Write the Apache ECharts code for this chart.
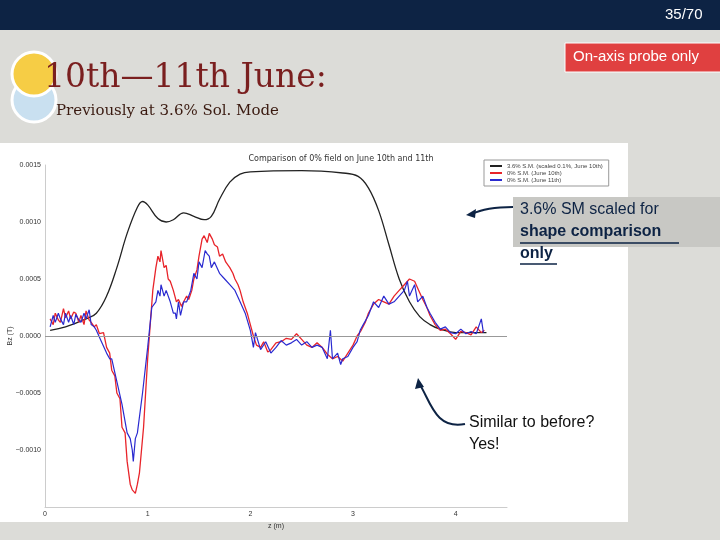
<!DOCTYPE html>
<html>
<head>
<meta charset="utf-8">
<script src="https://cdn.jsdelivr.net/npm/echarts@6/dist/echarts.min.js"></script>
<style>html,body{margin:0;padding:0;background:#dcdcd8;}#main{width:720px;height:540px;}</style>
</head>
<body>
<div id="main"></div>
<script>
// 3.6% S.M. scaled 0.1%, June 10th
var scaledSM = [[0.05,0.00005],[0.2,0.00008],[0.4,0.00015],[0.5,0.0002],[0.6,0.00035],[0.7,0.0006],[0.8,0.0009],[0.9,0.00113],[0.95,0.00118],[1.0,0.00115],[1.1,0.00103],[1.18,0.001],[1.25,0.00102],[1.35,0.00108],[1.45,0.00105],[1.55,0.00102],[1.62,0.00105],[1.7,0.0012],[1.8,0.00135],[1.9,0.00142],[2.0,0.00144],[2.5,0.00145],[2.9,0.00143],[3.05,0.0014],[3.15,0.0013],[3.25,0.0011],[3.35,0.0008],[3.45,0.0005],[3.55,0.0003],[3.65,0.00017],[3.75,0.0001],[3.85,0.00006],[4.0,0.00003],[4.3,0.00003]];
// 0% S.M. June 10th
var june10 = [[0.05,0.00015],[0.08,0.0001],[0.1,0.0002],[0.13,0.00014],[0.15,0.00012],[0.18,0.00024],[0.2,0.00016],[0.23,0.00022],[0.25,0.00015],[0.28,0.00021],[0.3,0.0002],[0.33,0.00012],[0.35,0.00018],[0.38,0.0001],[0.4,0.00022],[0.43,0.00014],[0.45,0.00012],[0.48,0.00008],[0.5,0.0001],[0.53,0.00002],[0.57,0.00003],[0.6,-0.0001],[0.63,-0.00015],[0.65,-0.0003],[0.68,-0.00035],[0.7,-0.0005],[0.73,-0.00055],[0.75,-0.0008],[0.78,-0.00085],[0.8,-0.0011],[0.83,-0.0013],[0.85,-0.00135],[0.88,-0.00138],[0.9,-0.0013],[0.92,-0.0012],[0.96,-0.0008],[1.0,-0.0002],[1.05,0.0004],[1.08,0.0006],[1.1,0.0007],[1.12,0.00065],[1.13,0.00075],[1.16,0.0006],[1.18,0.00062],[1.2,0.0005],[1.22,0.00048],[1.25,0.0004],[1.28,0.0003],[1.3,0.00032],[1.33,0.00026],[1.35,0.0003],[1.38,0.00035],[1.4,0.00032],[1.43,0.0004],[1.45,0.0005],[1.48,0.00058],[1.5,0.0007],[1.53,0.00085],[1.55,0.00088],[1.58,0.00082],[1.6,0.0009],[1.63,0.00085],[1.65,0.0008],[1.68,0.00078],[1.7,0.0007],[1.73,0.00072],[1.76,0.00065],[1.8,0.0006],[1.83,0.00055],[1.85,0.0005],[1.88,0.00045],[1.9,0.0004],[1.93,0.0003],[1.97,0.0002],[2.0,0.0001],[2.03,0],[2.06,-0.00008],[2.1,-0.0001],[2.13,-0.00005],[2.17,-0.00014],[2.2,-0.00012],[2.25,-0.00006],[2.3,-0.00005],[2.35,-0.00002],[2.4,-0.00003],[2.45,0.00002],[2.5,-0.00003],[2.55,-0.00008],[2.6,-0.0001],[2.65,-0.00006],[2.7,-0.0001],[2.75,-0.00016],[2.8,-0.0002],[2.85,-0.00018],[2.9,-0.00022],[2.95,-0.00015],[3.0,-0.00008],[3.04,0.0],[3.08,0.00005],[3.12,0.00012],[3.15,0.0002],[3.2,0.00028],[3.25,0.00032],[3.3,0.0003],[3.35,0.00028],[3.4,0.00035],[3.45,0.0004],[3.5,0.00045],[3.55,0.0005],[3.6,0.00048],[3.64,0.0004],[3.68,0.00032],[3.72,0.00025],[3.75,0.00018],[3.8,0.0001],[3.85,0.00005],[3.9,0.00006],[3.95,0.00002],[4.0,-0.00003],[4.05,0.00004],[4.1,0.00003],[4.15,0.00001],[4.2,0.00008],[4.25,0.00003],[4.28,0.00005]];
// 0% S.M. June 11th
var june11 = [[0.05,0.00008],[0.08,0.00018],[0.1,0.00012],[0.13,0.0002],[0.15,0.00015],[0.18,0.0001],[0.2,0.0002],[0.23,0.00012],[0.25,0.00018],[0.28,0.0001],[0.3,0.00019],[0.33,0.00014],[0.35,0.00012],[0.38,0.0002],[0.4,0.00015],[0.43,0.00023],[0.45,0.0001],[0.48,0.00008],[0.5,0.00005],[0.55,-0.00005],[0.6,-0.00015],[0.63,-0.0002],[0.65,-0.0002],[0.7,-0.0004],[0.75,-0.0006],[0.8,-0.00085],[0.83,-0.0009],[0.85,-0.001],[0.86,-0.0011],[0.88,-0.0009],[0.9,-0.00085],[0.95,-0.0005],[1.0,-0.0001],[1.04,0.00025],[1.08,0.0003],[1.1,0.0004],[1.12,0.00035],[1.13,0.00045],[1.16,0.00035],[1.18,0.0004],[1.22,0.0003],[1.25,0.0002],[1.27,0.0002],[1.28,0.00015],[1.3,0.0003],[1.32,0.00018],[1.35,0.0003],[1.38,0.0003],[1.42,0.0004],[1.45,0.00055],[1.48,0.0005],[1.5,0.00065],[1.53,0.0006],[1.56,0.00075],[1.58,0.00072],[1.6,0.0007],[1.62,0.0006],[1.65,0.00065],[1.7,0.00055],[1.75,0.0005],[1.8,0.00045],[1.85,0.0004],[1.9,0.0003],[1.95,0.0002],[2.0,0.00005],[2.03,-0.0001],[2.05,0.00003],[2.1,-0.00012],[2.15,-0.00005],[2.2,-0.00015],[2.25,-0.0001],[2.3,-0.00004],[2.35,-0.00008],[2.4,-0.00006],[2.45,-0.00003],[2.5,-0.00008],[2.55,-0.00005],[2.6,-0.0001],[2.65,-0.00008],[2.7,-0.0001],[2.75,-0.0002],[2.78,0.00005],[2.8,-0.0002],[2.85,-0.00015],[2.88,-0.00025],[2.9,-0.0002],[2.95,-0.00018],[3.0,-0.0001],[3.04,-0.00005],[3.07,0.00005],[3.1,0.0001],[3.15,0.00018],[3.2,0.0003],[3.25,0.00025],[3.3,0.00035],[3.35,0.00028],[3.4,0.0003],[3.45,0.00035],[3.5,0.0004],[3.53,0.00048],[3.55,0.00035],[3.6,0.00045],[3.63,0.0003],[3.68,0.00035],[3.72,0.00025],[3.75,0.0002],[3.8,0.00012],[3.85,0.00006],[3.9,0.00008],[3.95,0.00003],[4.0,0.00002],[4.05,0.00006],[4.1,0.00002],[4.15,0.00004],[4.2,0.00002],[4.25,0.00015],[4.27,0.00003]];
var seriesNames = ['3.6% S.M. (scaled 0.1%, June 10th)', '0% S.M. (June 10th)', '0% S.M. (June 11th)'];

var chart = echarts.init(document.getElementById('main'));
var option = {
    backgroundColor: '#dcdcd8',
    animation: false,
    title: {
        text: 'Comparison of 0% field on June 10th and 11th',
        left: 336, top: 150, textAlign: 'center',
        textStyle: { fontSize: 8, fontWeight: 'normal', color: '#333', fontFamily: 'DejaVu Sans' }
    },
    legend: {
        orient: 'vertical', left: 484, top: 160, itemGap: 1, itemWidth: 12, itemHeight: 2,
        icon: 'rect', backgroundColor: '#fff', borderColor: '#999', borderWidth: 1, padding: [3, 6],
        textStyle: { fontSize: 6, color: '#444' },
        data: seriesNames
    },
    grid: { left: 45, right: 213, top: 165, bottom: 33, containLabel: false, outerBoundsMode: 'none' },
    xAxis: {
        type: 'value', min: 0, max: 4.5, interval: 1, name: 'z (m)', nameLocation: 'middle', nameGap: 11,
        nameTextStyle: { fontSize: 7, color: '#333' },
        axisLine: { onZero: false, lineStyle: { color: '#ccc' } }, axisTick: { show: false },
        axisLabel: { fontSize: 7, color: '#333', margin: 4, formatter: function (v) { return v % 1 === 0 ? v : ''; } },
        splitLine: { show: false }
    },
    yAxis: {
        type: 'value', min: -0.0015, max: 0.0015, interval: 0.0005,
        axisLine: { show: true, lineStyle: { color: '#ccc' } }, axisTick: { show: false },
        axisLabel: { fontSize: 7, color: '#333', margin: 4, formatter: function (v) { return v <= -0.0015 ? '' : v.toFixed(4).replace('-', '\u2212'); } },
        splitLine: { show: false }
    },
    series: [{
        name: seriesNames[0], type: 'line', data: scaledSM, smooth: 0.4, symbol: 'none',
        lineStyle: { color: '#222', width: 1.3 }, itemStyle: { color: '#222' },
        markLine: { silent: true, symbol: 'none', label: { show: false }, lineStyle: { color: '#999', type: 'solid', width: 1 }, data: [{ yAxis: 0 }] }
    }, {
        name: seriesNames[1], type: 'line', data: june10, symbol: 'none',
        lineStyle: { color: '#e8242a', width: 1.3 }, itemStyle: { color: '#e8242a' }
    }, {
        name: seriesNames[2], type: 'line', data: june11, symbol: 'none',
        lineStyle: { color: '#2a2ad0', width: 1.2 }, itemStyle: { color: '#2a2ad0' }
    }],
    graphic: [
        { type: 'rect', z: -10, shape: { x: 0, y: 143, width: 628, height: 379 }, style: { fill: '#fff' } },
        { type: 'text', x: 10, y: 336, rotation: Math.PI / 2, style: { text: 'Bz (T)', fill: '#333', fontSize: 7, align: 'center', verticalAlign: 'middle' } },
        { type: 'rect', shape: { x: 0, y: 0, width: 720, height: 30 }, style: { fill: '#0d2344' } },
        { type: 'text', left: 665, top: 7, style: { text: '35/70', fill: '#fff', fontSize: 15, fontFamily: 'Arial' } },
        { type: 'circle', shape: { cx: 34, cy: 100, r: 22 }, style: { fill: '#c9e0f0', stroke: '#fff', lineWidth: 3 } },
        { type: 'circle', shape: { cx: 34, cy: 74, r: 22 }, style: { fill: '#f6cd45', stroke: '#fff', lineWidth: 3 } },
        { type: 'text', left: 44, top: 62, style: { text: '10th\u201411th June:', fill: '#7a1f1f', fontSize: 33, fontFamily: 'DejaVu Serif' } },
        { type: 'text', left: 56, top: 104, style: { text: 'Previously at 3.6% Sol. Mode', fill: '#3a1a10', fontSize: 15, fontFamily: 'DejaVu Serif' } },
        { type: 'rect', shape: { x: 565, y: 43, width: 160, height: 29 }, style: { fill: '#e04040', stroke: '#fff', lineWidth: 1 } },
        { type: 'text', left: 573, top: 49, style: { text: 'On-axis probe only', fill: '#fff', fontSize: 15, fontFamily: 'Arial' } },
        { type: 'rect', shape: { x: 513, y: 197, width: 210, height: 50 }, style: { fill: '#c8c8c4' } },
        { type: 'text', left: 520, top: 202, style: { text: '3.6% SM scaled for', fill: '#0d2344', fontSize: 16, fontFamily: 'Arial' } },
        { type: 'text', left: 520, top: 224, style: { text: 'shape comparison', fill: '#0d2344', fontSize: 16, fontWeight: 'bold', fontFamily: 'Arial' } },
        { type: 'text', left: 520, top: 246, style: { text: 'only', fill: '#0d2344', fontSize: 16, fontWeight: 'bold', fontFamily: 'Arial' } },
        { type: 'line', shape: { x1: 520, y1: 243, x2: 679, y2: 243 }, style: { stroke: '#0d2344', lineWidth: 1.5 } },
        { type: 'line', shape: { x1: 520, y1: 264, x2: 557, y2: 264 }, style: { stroke: '#0d2344', lineWidth: 1.5 } },
        { type: 'bezierCurve', shape: { x1: 513, y1: 207, x2: 472, y2: 214, cpx1: 495, cpy1: 207, cpx2: 480, cpy2: 210 }, style: { stroke: '#0d2344', lineWidth: 2, fill: 'none' } },
        { type: 'polygon', shape: { points: [[466, 215], [476, 209], [475, 218]] }, style: { fill: '#0d2344' } },
        { type: 'bezierCurve', shape: { x1: 465, y1: 424, x2: 420, y2: 385, cpx1: 435, cpy1: 430, cpx2: 430, cpy2: 400 }, style: { stroke: '#0d2344', lineWidth: 2, fill: 'none' } },
        { type: 'polygon', shape: { points: [[418, 378], [415, 389], [424, 387]] }, style: { fill: '#0d2344' } },
        { type: 'text', left: 469, top: 412, style: { text: 'Similar to before?\nYes!', fill: '#111', fontSize: 16, lineHeight: 22, fontFamily: 'Arial' } }
    ]
};
chart.setOption(option);
</script>
</body>
</html>
